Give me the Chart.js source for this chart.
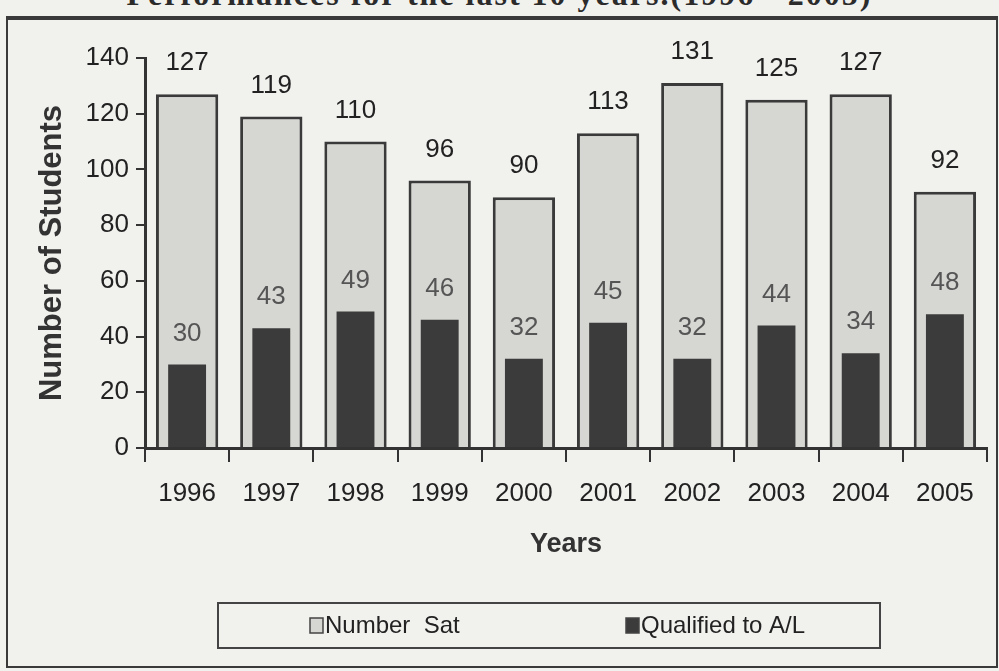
<!DOCTYPE html>
<html>
<head>
<meta charset="utf-8">
<script src="https://cdn.jsdelivr.net/npm/chart.js@4"></script>
<style>
  html, body { margin: 0; padding: 0; background: #f1f1ee; overflow: hidden; }
  body { width: 999px; height: 671px; position: relative; }
  #titulo {
    position: absolute; left: 0; width: 999px; top: -22px;
    text-align: center; font: bold 32px "Liberation Serif", serif;
    color: #2b2b2b; line-height: 32px; letter-spacing: 2px;
  }
  #moldura {
    position: absolute; left: 6px; top: 16px; width: 992px; height: 652px;
    box-sizing: border-box; border: 2px solid #3a3a3a; border-top-width: 4px;
  }
  #grafico { display: block; }
</style>
</head>
<body>
<div id="titulo">Performances for the last 10 years.(1996 - 2005)</div>
<div id="moldura">
  <canvas id="grafico" width="988" height="646"></canvas>
</div>
<script>
const anos = ["1996", "1997", "1998", "1999", "2000", "2001", "2002", "2003", "2004", "2005"];
const numeroSentados = [127, 119, 110, 96, 90, 113, 131, 125, 127, 92];
const qualificados = [30, 43, 49, 46, 32, 45, 32, 44, 34, 48];
const rotulosSeries = ["Number  Sat", "Qualified to A/L"];
const fonte = "'Liberation Sans', Arial, sans-serif";

// escreve os valores acima das barras
const rotulosValores = {
  id: "rotulosValores",
  afterDatasetsDraw(chart) {
    const c = chart.ctx;
    c.save();
    c.textAlign = "center";
    c.textBaseline = "middle";
    c.font = "26px " + fonte;
    chart.data.datasets.forEach((ds, i) => {
      c.fillStyle = i === 0 ? "#222222" : "#555555";
      chart.getDatasetMeta(i).data.forEach((bar, j) => {
        c.fillText(ds.data[j], bar.x, bar.y - 31);
      });
    });
    c.restore();
  },
};

// legenda dentro de uma caixa, como no original
const legendaCaixa = {
  id: "legendaCaixa",
  afterDraw(chart) {
    const c = chart.ctx;
    const ds = chart.data.datasets;
    c.save();
    c.strokeStyle = "#444";
    c.lineWidth = 2;
    c.strokeRect(210, 583, 662, 45);
    const posicoes = [302, 618];
    c.font = "24px " + fonte;
    c.textBaseline = "middle";
    c.textAlign = "left";
    ds.forEach((d, i) => {
      const x = posicoes[i];
      c.fillStyle = d.backgroundColor;
      c.fillRect(x, 598, 13, 15);
      c.strokeStyle = "#444";
      c.lineWidth = 1.5;
      c.strokeRect(x, 598, 13, 15);
      c.fillStyle = "#222";
      c.fillText(d.label, x + 15, 606);
    });
    c.restore();
  },
};

new Chart(document.getElementById("grafico"), {
  type: "bar",
  data: {
    labels: anos,
    datasets: [
      {
        label: rotulosSeries[0],
        data: numeroSentados,
        backgroundColor: "#d6d6d3",
        borderColor: "#3a3a3a",
        borderWidth: 3,
        barPercentage: 0.74,
        categoryPercentage: 1,
        grouped: false,
        order: 2,
      },
      {
        label: rotulosSeries[1],
        data: qualificados,
        backgroundColor: "#3b3b3b",
        borderWidth: 0,
        barPercentage: 0.45,
        categoryPercentage: 1,
        grouped: false,
        order: 1,
      },
    ],
  },
  plugins: [rotulosValores, legendaCaixa],
  options: {
    responsive: false,
    animation: false,
    layout: { padding: { top: 38, right: 9, bottom: 101, left: 0 } },
    plugins: {
      legend: { display: false },
      tooltip: { enabled: false },
    },
    scales: {
      x: {
        offset: true,
        afterFit: (s) => { s.height = 117; },
        grid: { offset: true, drawOnChartArea: false, color: "#333", lineWidth: 2, tickLength: 14 },
        border: { color: "#333", width: 3 },
        ticks: { color: "#222", font: { family: fonte, size: 26 }, padding: 16, maxRotation: 0 },
        title: {
          display: true, text: "Years", color: "#333",
          font: { family: fonte, size: 27, weight: "bold" },
          padding: { top: 0, bottom: 4 },
        },
      },
      y: {
        min: 0,
        max: 140,
        afterFit: (s) => { s.width = 137; },
        grid: { drawOnChartArea: false, color: "#333", lineWidth: 2, tickLength: 9 },
        border: { color: "#333", width: 3 },
        ticks: { stepSize: 20, color: "#222", font: { family: fonte, size: 26 }, padding: 7 },
        title: {
          display: true, text: "Number of Students", color: "#333",
          font: { family: fonte, size: 31, weight: "bold" },
          padding: { top: 26, bottom: 0 },
        },
      },
    },
  },
});
</script>
</body>
</html>
